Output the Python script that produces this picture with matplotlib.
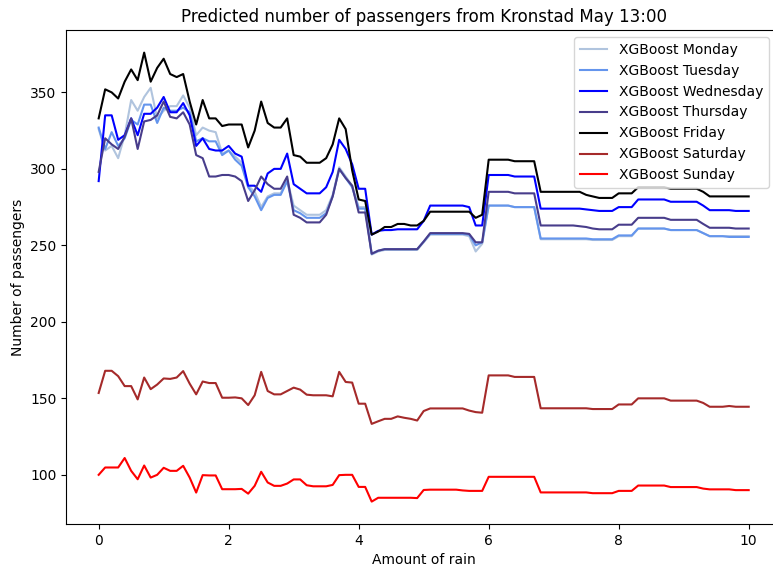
import matplotlib
matplotlib.use("Agg")
import matplotlib.pyplot as plt

rain = [i / 10 for i in range(101)]

monday = [326, 312, 315, 307, 322, 345, 338, 347, 353, 333,
          338, 341, 341, 348, 340, 322, 327, 325, 324, 310,
          312, 308, 304, 289, 285, 275, 282, 284, 284, 293,
          276, 273, 270, 270, 270, 273, 283, 301, 295, 289,
          275, 275, 244, 246, 247, 247, 247, 247, 247, 247,
          252, 257, 257, 257, 257, 257, 257, 256, 246, 251,
          276, 276, 276, 276, 275, 275, 275, 275, 254, 254,
          254, 254, 254, 254, 254, 254, 253.5, 253.5, 253.5, 253.5,
          256, 256, 256, 261, 261, 261, 261, 261, 260, 260,
          260, 260, 260, 258, 256, 256, 256, 256, 256, 256,
          256]
tuesday = [327, 313, 324, 315, 320, 332, 329, 342, 342, 330,
           340, 338, 338, 340, 337, 318, 320, 318, 318, 309,
           312, 306, 302, 288, 282, 273, 281, 283, 283, 292,
           273, 271, 268, 268, 268, 271, 282, 300, 294, 288,
           274, 274, 244.5, 246.5, 247.5, 247.5, 247.5, 247.5, 247.5, 247.5,
           252.5, 257.5, 257.5, 257.5, 257.5, 257.5, 257.5, 257, 250, 252,
           276, 276, 276, 276, 275, 275, 275, 275, 254.5, 254.5,
           254.5, 254.5, 254.5, 254.5, 254.5, 254.5, 254, 254, 254, 254,
           256.5, 256.5, 256.5, 261, 261, 261, 261, 261, 260, 260,
           260, 260, 260, 258, 256, 256, 256, 255.5, 255.5, 255.5,
           255.5]
wednesday = [292, 335, 335, 319, 322, 333, 322, 336, 336, 340,
             347, 337, 337, 343, 335, 315, 320, 313, 312, 312,
             315, 310, 308, 289, 289, 285, 297, 300, 300, 310,
             290, 287, 284, 284, 284, 288, 298, 319, 313, 303,
             287, 287, 257, 259.5, 260, 260, 260.5, 260.5, 260.5, 260.5,
             266, 276, 276, 276, 276, 276, 276, 275, 263, 263,
             296, 296, 296, 296, 295, 295, 295, 295, 274, 274,
             274, 274, 274, 274, 274, 273.5, 273, 272.5, 272.5, 272.5,
             275, 275, 275, 280, 280, 280, 280, 280, 278.5, 278.5,
             278.5, 278.5, 278.5, 276, 273, 273, 273, 273, 272.5, 272.5,
             272.5]
thursday = [298, 320, 316, 313, 321, 333, 313, 331, 332, 335,
            344, 334, 333, 337, 329, 309, 307, 295, 295, 296,
            296, 295, 292, 279, 286, 295, 290, 287, 287, 295,
            270, 268, 265, 265, 265, 270, 282, 300, 294, 289,
            271.5, 271.5, 244.5, 246.5, 247.5, 247.5, 247.5, 247.5, 247.5, 247.5,
            252.5, 258, 258, 258, 258, 258, 258, 257.5, 252, 252,
            285, 285, 285, 285, 284, 284, 284, 284, 263, 263,
            263, 263, 263, 263, 262.5, 262, 261, 260.5, 260.5, 260.5,
            263.5, 263.5, 263.5, 268, 268, 268, 268, 268, 266.7, 266.7,
            266.7, 266.7, 266.7, 264, 261.5, 261.5, 261.5, 261.5, 261, 261,
            261]
friday = [333, 352, 350, 346, 357, 365, 358, 376, 357, 366,
          372, 362, 360, 362, 344, 329, 345, 333, 333, 328,
          329, 329, 329, 314, 325, 344, 330, 327, 327, 333,
          309, 308, 304, 304, 304, 307, 316, 333, 326, 299,
          280, 279, 257, 259, 262, 262, 264, 264, 263, 263,
          266, 272, 272, 272, 272, 272, 272, 272, 268, 270,
          306, 306, 306, 306, 305, 305, 305, 305, 285, 285,
          285, 285, 285, 285, 285, 283, 282, 281, 281, 281,
          284, 284, 284, 288, 288, 288, 288, 288, 287, 287,
          287, 287, 287, 285, 282, 282, 282, 282, 282, 282,
          282]
saturday = [153.5, 168, 168, 164.5, 158, 158, 149.3, 163.6, 156, 159,
            163, 162.7, 163.6, 167.8, 159.6, 152.6, 161, 160, 160, 150.4,
            150.4, 150.6, 150, 145.6, 152, 167.3, 154.8, 152.6, 152.6, 154.8,
            157, 155.7, 152.4, 152, 152, 152, 151.3, 167.3, 160.7, 160.3,
            146.5, 146.5, 133.3, 135, 136.6, 136.6, 138.2, 137.3, 136.6, 135.5,
            141.7, 143.4, 143.4, 143.4, 143.4, 143.4, 143.4, 142, 141, 140.6,
            165, 165, 165, 165, 164, 164, 164, 164, 143.5, 143.5,
            143.5, 143.5, 143.5, 143.5, 143.5, 143.5, 143, 143, 143, 143,
            146, 146, 146, 150, 150, 150, 150, 150, 148.5, 148.5,
            148.5, 148.5, 148.5, 147, 144.5, 144.5, 144.5, 145, 144.5, 144.5,
            144.5]
sunday = [100, 104.8, 104.8, 104.8, 111, 102.6, 97.1, 106.1, 98.2, 100,
          104.6, 102.6, 102.6, 105.9, 98.2, 88.4, 99.8, 99.6, 99.6, 90.6,
          90.6, 90.6, 90.8, 87.7, 92.8, 102, 95, 92.8, 92.8, 94.3,
          97, 97, 93.2, 92.5, 92.5, 92.5, 93.4, 99.8, 100, 100,
          92.1, 92.1, 82.5, 85, 85, 85, 85, 85, 85, 84.8,
          90.1, 90.3, 90.3, 90.3, 90.3, 90.3, 89.8, 89.5, 89.5, 89.5,
          98.7, 98.7, 98.7, 98.7, 98.7, 98.7, 98.7, 98.7, 88.5, 88.5,
          88.5, 88.5, 88.5, 88.5, 88.5, 88.5, 88, 88, 88, 88,
          89.5, 89.5, 89.5, 93, 93, 93, 93, 93, 92, 92,
          92, 92, 92, 91, 90.5, 90.5, 90.5, 90.5, 90, 90,
          90]

days = ["Monday", "Tuesday", "Wednesday", "Thursday", "Friday", "Saturday", "Sunday"]
series = [monday, tuesday, wednesday, thursday, friday, saturday, sunday]
colors = ["lightsteelblue", "cornflowerblue", "blue", "darkslateblue",
          "black", "brown", "red"]

fig = plt.figure(figsize=(7.73, 5.69), dpi=100)
# right spine falls just outside the saved picture, as in the original crop
ax = fig.add_axes([0.0856, 0.079, 0.925, 0.868])

for day, vals, col in zip(days, series, colors):
    ax.plot(rain, vals, color=col, linewidth=1.5, label="XGBoost " + day)

ax.set_title("Predicted number of passengers from Kronstad May 13:00")
ax.set_xlabel("Amount of rain")
ax.set_ylabel("Number of passengers")
ax.legend(loc="upper right", bbox_to_anchor=(0.992, 1.0))

fig.savefig("out.png", dpi=100)
